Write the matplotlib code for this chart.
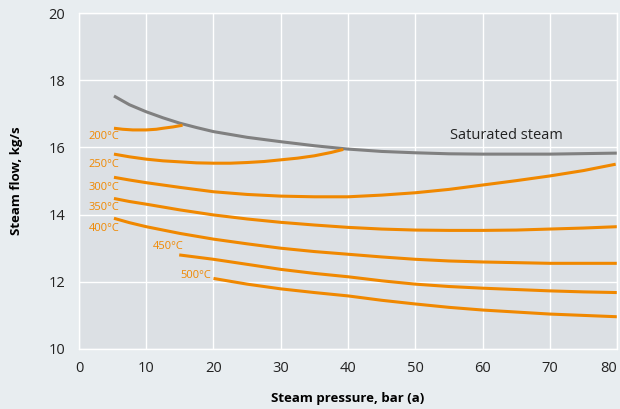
import numpy as np
import matplotlib.pyplot as plt

plt.rcParams['font.family'] = ['Open Sans', 'DejaVu Sans']

# saturated steam curve
sat_p = [5.2, 7.5, 10, 12.5, 15, 17.5, 20, 25, 30, 35, 40, 45, 50, 55, 60, 70, 80]
sat_f = [17.53, 17.27, 17.06, 16.88, 16.72, 16.59, 16.47, 16.30, 16.17, 16.05, 15.95,
         15.88, 15.84, 15.81, 15.80, 15.80, 15.83]

# superheated curves: temperature -> (pressure, flow)
curves = {
    '200°C': ([5.2, 6.5, 8, 10, 11.5, 12.5, 14, 15.4],
              [16.57, 16.54, 16.52, 16.52, 16.54, 16.57, 16.61, 16.66]),
    '250°C': ([5.2, 7.5, 10, 12.5, 15, 17.5, 20, 22.5, 25, 27.5, 30, 32.5, 35, 37.5, 39.3],
              [15.80, 15.72, 15.65, 15.60, 15.57, 15.54, 15.53, 15.53, 15.55, 15.58, 15.63,
               15.68, 15.75, 15.85, 15.94]),
    '300°C': ([5.2, 7.5, 10, 15, 20, 25, 30, 35, 40, 45, 50, 55, 60, 65, 70, 75, 79.8],
              [15.11, 15.03, 14.95, 14.81, 14.68, 14.60, 14.55, 14.53, 14.53, 14.58, 14.65,
               14.75, 14.88, 15.01, 15.15, 15.31, 15.50]),
    '350°C': ([5.2, 7.5, 10, 15, 20, 25, 30, 35, 40, 45, 50, 55, 60, 65, 70, 75, 80],
              [14.48, 14.39, 14.31, 14.14, 13.99, 13.87, 13.77, 13.69, 13.62, 13.57, 13.54,
               13.53, 13.53, 13.54, 13.57, 13.60, 13.64]),
    '400°C': ([5.2, 7.5, 10, 15, 20, 25, 30, 35, 40, 45, 50, 55, 60, 65, 70, 75, 80],
              [13.89, 13.76, 13.64, 13.44, 13.27, 13.13, 13.00, 12.90, 12.82, 12.74, 12.67,
               12.62, 12.59, 12.57, 12.55, 12.55, 12.55]),
    '450°C': ([14.9, 20, 25, 30, 35, 40, 45, 50, 55, 60, 65, 70, 75, 80],
              [12.80, 12.67, 12.52, 12.37, 12.25, 12.15, 12.03, 11.93, 11.86, 11.81, 11.77,
               11.73, 11.70, 11.68]),
    '500°C': ([20, 25, 30, 35, 40, 45, 50, 55, 60, 65, 70, 75, 80],
              [12.10, 11.93, 11.79, 11.68, 11.58, 11.45, 11.34, 11.24, 11.16, 11.10, 11.04,
               11.00, 10.96]),
}

# label positions (right edge x, y)
label_pos = {
    '200°C': (6.0, 16.31),
    '250°C': (6.0, 15.49),
    '300°C': (6.0, 14.80),
    '350°C': (6.0, 14.22),
    '400°C': (6.0, 13.59),
    '450°C': (15.6, 13.04),
    '500°C': (19.7, 12.20),
}

orange = '#f08800'
gray = '#808080'

fig = plt.figure(figsize=(6.2, 4.09), dpi=100, facecolor='#e8edf0')
ax = fig.add_axes([0.1274, 0.1467, 0.8678, 0.8215])
ax.set_facecolor('#dce0e4')

ax.plot(sat_p, sat_f, color=gray, lw=2.2, solid_capstyle='butt')
ax.text(63.6, 16.34, 'Saturated steam', fontsize=10.5, color='#222222', ha='center', va='center')

for name, (p, f) in curves.items():
    ax.plot(p, f, color=orange, lw=2.2, solid_capstyle='butt')
    lx, ly = label_pos[name]
    ax.text(lx, ly, name, fontsize=8, color=orange, ha='right', va='center')

ax.set_xlim(0, 80)
ax.set_ylim(10, 20)
ax.set_xticks(range(0, 81, 10))
ax.set_yticks(range(10, 21, 2))
ax.grid(True, color='white', lw=1.0)
ax.set_axisbelow(True)
for s in ax.spines.values():
    s.set_color('white')
    s.set_linewidth(1.0)
ax.tick_params(length=0, labelsize=10.5, colors='#222222')
ax.tick_params(axis='x', pad=9)
ax.tick_params(axis='y', pad=10)
# last x label sits flush with the right edge, like the original
ax.get_xticklabels()[-1].set_horizontalalignment('right')

ax.set_xlabel('Steam pressure, bar (a)', fontsize=9.5, fontweight='bold', labelpad=11)
ax.set_ylabel('Steam flow, kg/s', fontsize=9.5, fontweight='bold', labelpad=18)

fig.savefig('out.png', dpi=100, facecolor=fig.get_facecolor())
